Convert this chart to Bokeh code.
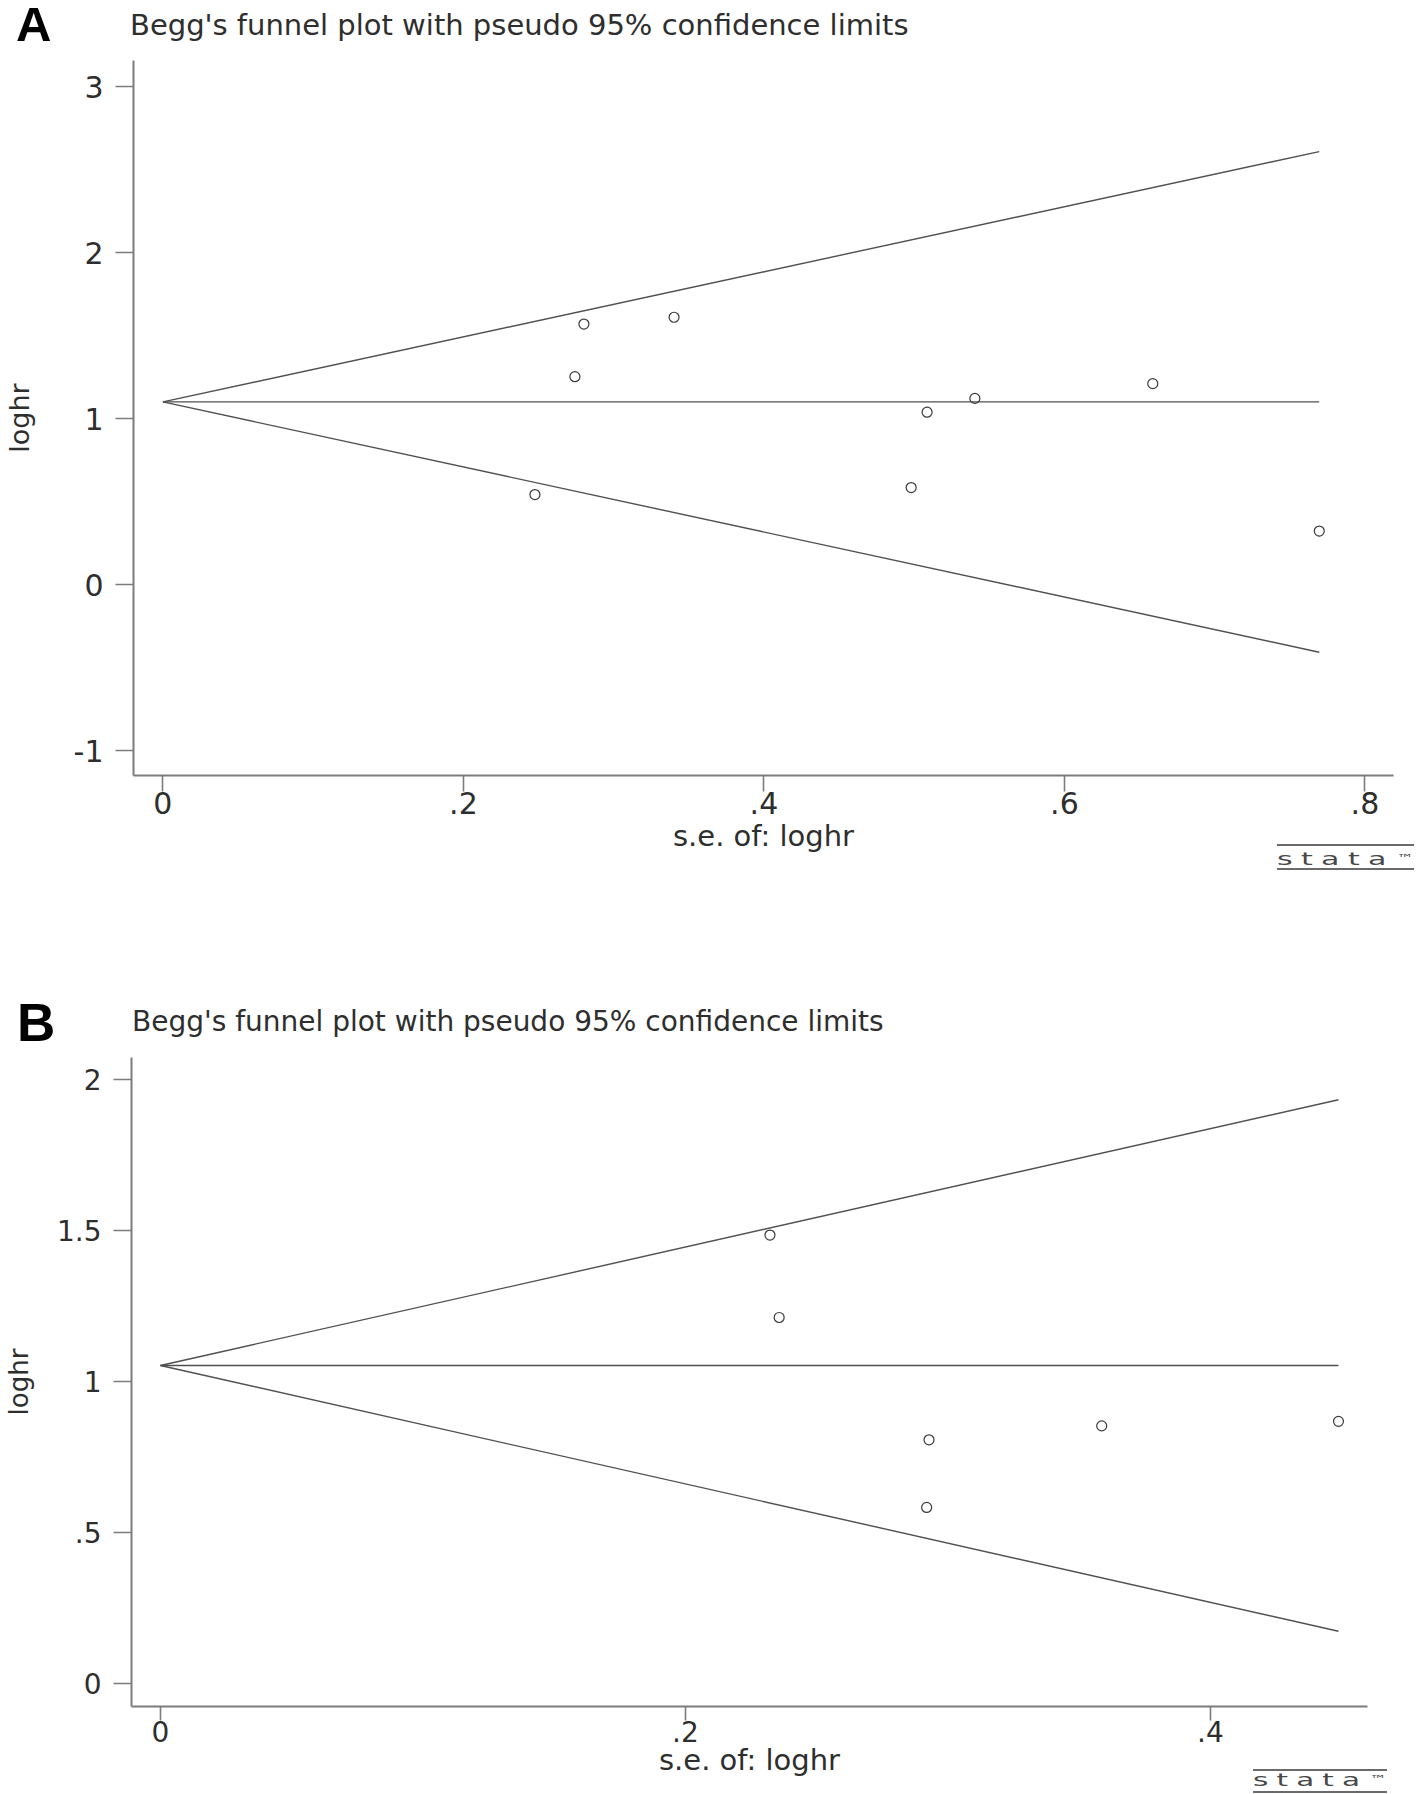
from bokeh.plotting import figure
from bokeh.models import FixedTicker, Range1d, Div
from bokeh.embed import file_html
from bokeh.resources import INLINE

# ---------------- data: panel A ----------------
a_se = [0.2476, 0.2742, 0.2802, 0.3402, 0.4980, 0.5086, 0.5404, 0.6588, 0.7696]
a_loghr = [0.542, 1.252, 1.569, 1.610, 0.584, 1.038, 1.121, 1.210, 0.322]
a_funnel_se = [0.0, 0.7696]
a_center = [1.100, 1.100]
a_upper = [1.100, 2.608]
a_lower = [1.100, -0.408]
a_xticks = [0, 0.2, 0.4, 0.6, 0.8]
a_xtick_labels = ["0", ".2", ".4", ".6", ".8"]
a_yticks = [-1, 0, 1, 2, 3]
a_ytick_labels = ["-1", "0", "1", "2", "3"]

# ---------------- data: panel B ----------------
b_se = [0.2322, 0.2357, 0.2928, 0.2919, 0.3586, 0.4488]
b_loghr = [1.485, 1.212, 0.807, 0.583, 0.853, 0.868]
b_funnel_se = [0.0, 0.4488]
b_center = [1.053, 1.053]
b_upper = [1.053, 1.933]
b_lower = [1.053, 0.173]
b_xticks = [0, 0.2, 0.4]
b_xtick_labels = ["0", ".2", ".4"]
b_yticks = [0, 0.5, 1, 1.5, 2]
b_ytick_labels = ["0", ".5", "1", "1.5", "2"]

title_text = "Begg's funnel plot with pseudo 95% confidence limits"
xlabel_text = "s.e. of: loghr"
ylabel_text = "loghr"
panel_letters = ["A", "B"]

TEXT = "#2e2e2e"
AXIS = "#7c7c7c"
LINE = "#505050"
FONT = "DejaVu Sans"
FIG_W = 1418


def make_panel(se, loghr, fse, center, upper, lower,
               xticks, xlabels, yticks, ylabels,
               xr, yr, fig_h, bl, bt, fw, fh,
               tick_font, xtick_out, ytick_out, ylab_font,
               xlab_standoff, ylab_standoff):
    br = FIG_W - bl - fw
    bb = fig_h - bt - fh
    p = figure(width=FIG_W, height=fig_h, title=None,
               x_range=Range1d(*xr), y_range=Range1d(*yr),
               output_backend="svg", toolbar_location=None,
               min_border_left=bl, min_border_right=br,
               min_border_top=bt, min_border_bottom=bb)
    p.outline_line_color = None
    p.xgrid.grid_line_color = None
    p.ygrid.grid_line_color = None
    p.background_fill_color = "white"
    p.border_fill_color = "white"

    for ax, ticks, labs, tout in ((p.xaxis, xticks, xlabels, xtick_out),
                                  (p.yaxis, yticks, ylabels, ytick_out)):
        ax.ticker = FixedTicker(ticks=ticks)
        ax.major_label_overrides = {t: l for t, l in zip(ticks, labs)}
        ax.axis_line_color = AXIS
        ax.axis_line_width = 2
        ax.major_tick_line_color = AXIS
        ax.major_tick_line_width = 1.6
        ax.major_tick_in = 0
        ax.major_tick_out = tout
        ax.minor_tick_line_color = None
        ax.major_label_text_font = FONT
        ax.major_label_text_font_size = tick_font
        ax.major_label_text_color = TEXT
        ax.axis_label_text_font = FONT
        ax.axis_label_text_font_style = "normal"
        ax.axis_label_text_color = TEXT
    p.xaxis.major_label_standoff = 0
    p.yaxis.major_label_standoff = 12
    p.xaxis.axis_label = xlabel_text
    p.xaxis.axis_label_text_font_size = "29px"
    p.xaxis.axis_label_standoff = xlab_standoff
    p.yaxis.axis_label = ylabel_text
    p.yaxis.axis_label_text_font_size = ylab_font
    p.yaxis.axis_label_standoff = ylab_standoff

    for ys in (upper, center, lower):
        p.line(fse, ys, line_color=LINE, line_width=1.4)
    p.scatter(se, loghr, marker="circle", size=10, fill_color=None,
              line_color="#3a3a3a", line_width=1.2)
    return p


pa = make_panel(a_se, a_loghr, a_funnel_se, a_center, a_upper, a_lower,
                a_xticks, a_xtick_labels, a_yticks, a_ytick_labels,
                xr=(-0.019572, 0.819014), yr=(-1.15060, 3.15663),
                fig_h=898, bl=129, bt=60, fw=1264, fh=715,
                tick_font="30px", xtick_out=16, ytick_out=18, ylab_font="27px",
                xlab_standoff=2, ylab_standoff=36)

pb = make_panel(b_se, b_loghr, b_funnel_se, b_center, b_upper, b_lower,
                b_xticks, b_xtick_labels, b_yticks, b_ytick_labels,
                xr=(-0.011049, 0.459862), yr=(-0.07616, 2.07285),
                fig_h=896, bl=131, bt=159, fw=1236, fh=649,
                tick_font="28px", xtick_out=14, ytick_out=18, ylab_font="26px",
                xlab_standoff=-2, ylab_standoff=20)

# ---- titles, panel letters and Stata logos: page overlay outside the plot frames ----
DX, DY = -5, -3   # compensation for the overlay host offset


def text_html(txt, left, baseline, size, family, weight, color, ascent, descent):
    # place text so that its alphabetic baseline lands at `baseline`
    top = baseline - ((size - (ascent + descent) * size) / 2.0 + ascent * size)
    return ('<div style="position:absolute;left:%.1fpx;top:%.1fpx;line-height:%dpx;'
            'font-family:\'%s\';font-weight:%s;font-size:%dpx;color:%s;'
            'white-space:nowrap;">%s</div>'
            % (left + DX, top + DY, size, family, weight, size, color, txt))


def logo_html(x0, x1, ytop, ybot, baseline):
    w = x1 - x0
    k = 0.86 * w / 70.6
    html = ''
    for y in (ytop, ybot):
        html += ('<div style="position:absolute;left:%dpx;top:%dpx;width:%dpx;'
                 'height:2px;background:#6a6a6a;"></div>' % (x0 + DX, y - 1 + DY, w))
    top = baseline - ((18 - 1.164 * 18) / 2.0 + 0.928 * 18)
    html += ('<div style="position:absolute;left:%dpx;top:%.1fpx;'
             'font-family:\'DejaVu Sans\';font-size:18px;line-height:18px;letter-spacing:5px;'
             'color:#484848;white-space:nowrap;transform-origin:0 0;transform:scaleX(%.3f);">'
             'stata</div>' % (x0 + DX, top + DY, k))
    html += ('<div style="position:absolute;left:%dpx;top:%.1fpx;font-family:\'DejaVu Sans\';'
             'font-size:11px;line-height:11px;color:#484848;white-space:nowrap;'
             'transform-origin:0 0;transform:scaleX(1.5);">\u2122</div>'
             % (x0 + int(0.88 * w) + DX, baseline - 12 + DY))
    return html


overlay = ('<div style="position:relative;width:1418px;height:1794px;">'
           + text_html(panel_letters[0], 16, 39, 49, "Liberation Sans", "bold", "#000", 0.905, 0.212)
           + text_html(panel_letters[1], 17, 1039, 53, "Liberation Sans", "bold", "#000", 0.905, 0.212)
           + text_html(title_text, 130, 33, 29, "DejaVu Sans", "normal", TEXT, 0.928, 0.236)
           + text_html(title_text, 132, 1030, 28, "DejaVu Sans", "normal", TEXT, 0.928, 0.236)
           + logo_html(1277, 1414, 843, 867, 863)
           + logo_html(1253, 1387, 1768, 1790, 1784)
           + '</div>')

div = Div(text=overlay, width=1418, height=1794,
          styles={"position": "absolute", "left": "0px", "top": "0px",
                  "pointer-events": "none"})

open("out.html", "w").write(file_html([pa, pb, div], INLINE))
